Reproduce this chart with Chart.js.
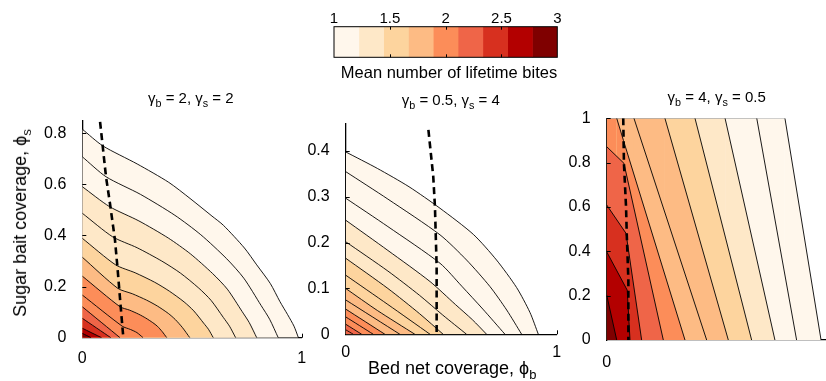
<!DOCTYPE html>
<html><head><meta charset="utf-8">
<script src="https://cdn.jsdelivr.net/npm/chart.js@4.4.1/dist/chart.umd.min.js"></script>
<style>
html,body{margin:0;padding:0;background:#fff;overflow:hidden;width:826px;height:381px;position:relative;}
.layer{position:absolute;left:0;top:0;width:900px;height:381px;}
.txt{position:absolute;font-family:"Liberation Sans",Arial,sans-serif;color:#000;white-space:nowrap;line-height:1;}
.sb{font-size:72%;position:relative;top:0.38em;}
</style></head><body>
<div class="layer"><canvas id="cb"></canvas></div>
<div class="layer"><canvas id="p1"></canvas></div>
<div class="layer"><canvas id="p2"></canvas></div>
<div class="layer"><canvas id="p3"></canvas></div>

<div class="txt" style="left:449px;top:72px;font-size:16.5px;transform:translate(-50%,-50%)">Mean number of lifetime bites</div>
<div class="txt" style="left:190.8px;top:97px;font-size:15px;transform:translate(-50%,-50%)">γ<span class="sb">b</span> = 2, γ<span class="sb">s</span> = 2</div>
<div class="txt" style="left:450.8px;top:99px;font-size:15px;transform:translate(-50%,-50%)">γ<span class="sb">b</span> = 0.5, γ<span class="sb">s</span> = 4</div>
<div class="txt" style="left:716.7px;top:96px;font-size:15px;transform:translate(-50%,-50%)">γ<span class="sb">b</span> = 4, γ<span class="sb">s</span> = 0.5</div>
<div class="txt" style="left:368px;top:368px;font-size:18px;transform:translate(0,-50%)">Bed net coverage, ϕ<span class="sb">b</span></div>
<div class="txt" style="left:20px;top:223px;font-size:18px;transform:translate(-50%,-50%) rotate(-90deg)">Sugar bait coverage, ϕ<span class="sb">s</span></div>

<script>
// ---------- colour scale ----------
const palette = ['#FFF7EC','#FEE8C8','#FDD49E','#FDBB84','#FC8D59','#EF6548','#D7301F','#B30000','#7F0000'];
const cbEdges = [1, 1.2222, 1.4444, 1.6667, 1.8889, 2.1111, 2.3333, 2.5556, 2.7778, 3];
const cbTicks = [1, 1.5, 2, 2.5, 3];

// ---------- panel 1: gamma_b = 2, gamma_s = 2 ----------
const p1XTicks = [0, 1];
const p1YTicks = [0, 0.2, 0.4, 0.6, 0.8];
const p1YMax = 0.85;
const p1Contours = [
  [[0,.816],[.093,.751],[.25,.68],[.394,.608],[.491,.545],[.591,.476],[.643,.44],[.739,.351],[.795,.285],[.857,.212],[.901,.141],[.936,.09],[.965,.045],[.985,0]],
  [[0,.708],[.108,.63],[.265,.561],[.422,.479],[.540,.403],[.658,.309],[.736,.233],[.815,.126],[.854,.072],[.893,0]],
  [[0,.591],[.124,.513],[.258,.457],[.392,.390],[.493,.328],[.594,.251],[.661,.190],[.728,.103],[.761,.059],[.795,0]],
  [[0,.487],[.138,.395],[.250,.352],[.362,.300],[.447,.253],[.531,.194],[.587,.146],[.643,.079],[.671,.045],[.699,0]],
  [[0,.389],[.152,.285],[.241,.254],[.330,.217],[.397,.182],[.464,.140],[.508,.105],[.553,.057],[.575,.033],[.597,0]],
  [[0,.315],[.162,.193],[.228,.172],[.293,.147],[.342,.124],[.392,.095],[.424,.071],[.457,.039],[.49,0]],
  [[0,.241],[.172,.121],[.215,.108],[.257,.092],[.289,.077],[.321,.059],[.342,.045],[.364,.024],[.385,0]],
  [[0,.167],[.182,.045],[.220,.032],[.249,.02],[.277,0]],
  [[0,.121],[.172,0]],
  [[0,.076],[.13,0]],
  [[0,.037],[.088,0]],
  [[0,.017],[.04,0]]
];
const p1Bands = [0,0,1,1,2,3,4,4,5,6,7,8];
const p1Dashed = [[.081,.845],[.108,.63],[.126,.526],[.149,.382],[.160,.278],[.175,.121],[.187,0]];

// ---------- panel 2: gamma_b = 0.5, gamma_s = 4 ----------
const p2XTicks = [0, 1];
const p2YTicks = [0, 0.1, 0.2, 0.3, 0.4];
const p2YMax = 0.46;
const p2Contours = [
  [[0,.398],[.15,.362],[.3,.322],[.447,.275],[.605,.218],[.715,.162],[.81,.102],[.873,.048],[.913,0]],
  [[0,.355],[.2,.295],[.447,.217],[.573,.162],[.684,.104],[.763,.053],[.834,0]],
  [[0,.297],[.2,.235],[.447,.155],[.55,.105],[.65,.055],[.755,0]],
  [[0,.249],[.2,.183],[.4,.115],[.52,.065],[.6,.032],[.668,0]],
  [[0,.202],[.2,.138],[.35,.085],[.46,.042],[.573,0]],
  [[0,.166],[.2,.1],[.35,.045],[.462,0]],
  [[0,.129],[.2,.065],[.4,0]],
  [[0,.1],[.15,.052],[.328,0]],
  [[0,.075],[.257,0]],
  [[0,.055],[.186,0]],
  [[0,.038],[.131,0]],
  [[0,.022],[.076,0]],
  [[0,.01],[.036,0]]
];
const p2Bands = [0,0,0,1,1,2,2,3,3,4,4,5,5];
const p2Dashed = [[.392,.446],[.415,.344],[.423,.278],[.431,.148],[.431,0]];

// ---------- panel 3: gamma_b = 4, gamma_s = 0.5 ----------
const p3XTicks = [0, 1];
const p3YTicks = [0, 0.2, 0.4, 0.6, 0.8, 1];
const p3YMax = 1;
const p3Contours = [
  [[0,1],[.765,1],[.920,0]],
  [[0,1],[.644,1],[.815,0]],
  [[0,1],[.508,1],[.722,0]],
  [[0,1],[.379,1],[.622,0]],
  [[0,1],[.250,1],[.522,0]],
  [[0,1],[.117,1],[.429,0]],
  [[0,1],[.043,1],[.072,.9],[.336,0]],
  [[0,.872],[.074,.797],[.243,0]],
  [[0,.609],[.083,.481],[.150,0]],
  [[0,.398],[.088,.225],[.10,0]],
  [[0,.203],[.043,0]]
];
const p3Bands = [0,0,1,2,3,3,4,5,6,7,8];
const p3Dashed = [[.071,1],[.074,.797],[.083,.601],[.086,.481],[.093,.271],[.093,0]];

// ---------- layout (page pixels) ----------
const CW = 900, CH = 381;
Chart.defaults.font.family = '"Liberation Sans", Arial, sans-serif';
Chart.defaults.color = '#000';

const innerTicks = {
  id: 'innerTicks',
  afterDraw(chart, args, o) {
    const {ctx, chartArea: a} = chart;
    ctx.save();
    ctx.strokeStyle = '#000';
    ctx.lineWidth = 1;
    const L = o.len || 4;
    const seg = (x1,y1,x2,y2) => { ctx.beginPath(); ctx.moveTo(x1,y1); ctx.lineTo(x2,y2); ctx.stroke(); };
    if (o.frame) { ctx.strokeRect(a.left, a.top, a.right - a.left, a.bottom - a.top); }
    (o.x || []).forEach(v => {
      const px = Math.round(chart.scales.x.getPixelForValue(v)) + 0.5;
      seg(px, a.bottom, px, a.bottom - L);
      if (o.both) seg(px, a.top, px, a.top + L);
    });
    (o.y || []).forEach(v => {
      const py = Math.round(chart.scales.y.getPixelForValue(v)) + 0.5;
      seg(a.left, py, a.left + L, py);
    });
    ctx.restore();
  }
};

const toPt = p => ({x: p[0], y: p[1]});

function panel(id, area, xTicks, yTicks, yMax, contours, bands, dashed, opt) {
  const YW = 60, XH = 34;
  const ds = [{
    data: dashed.map(toPt), borderColor: '#000', borderWidth: 2.6, borderDash: [7, 4.5],
    fill: false, pointRadius: 0, tension: 0, order: 0
  }];
  contours.forEach((c, k) => {
    const d = {
      data: c.map(toPt), borderColor: '#000', borderWidth: 0.9,
      backgroundColor: palette[bands[k]], fill: 'origin', pointRadius: 0, order: 1000 - k,
      tension: opt.tension
    };
    if (opt.topGray) d.segment = {
      borderColor: s => (s.p0.parsed.y === yMax && s.p1.parsed.y === yMax) ? '#a8a8a8' : '#000'
    };
    ds.push(d);
  });
  return new Chart(document.getElementById(id), {
    type: 'line',
    data: {datasets: ds},
    options: {
      responsive: true, maintainAspectRatio: false, animation: false, events: [],
      layout: {padding: {left: area.left - YW, top: area.top, right: CW - area.right, bottom: CH - area.bottom - XH}},
      scales: {
        x: {
          type: 'linear', min: 0, max: 1,
          afterFit: s => { s.height = XH; },
          afterBuildTicks: s => { s.ticks = xTicks.map(v => ({value: v})); },
          ticks: {font: {size: 16}, padding: opt.xPad, maxRotation: 0, autoSkip: false, callback: v => String(v)},
          grid: {display: false},
          border: {display: true, color: '#000', width: 1.3}
        },
        y: {
          type: 'linear', min: 0, max: yMax,
          afterFit: s => { s.width = YW; },
          afterBuildTicks: s => { s.ticks = yTicks.map(v => ({value: v})); },
          ticks: {font: {size: 16}, padding: 8, autoSkip: false, callback: v => String(v)},
          grid: {display: false},
          border: {display: true, color: '#000', width: 1.3}
        }
      },
      plugins: {legend: {display: false}, tooltip: {enabled: false},
        innerTicks: {x: xTicks.filter(v => v !== 0), y: yTicks.filter(v => v !== 0), len: 4}}
    },
    plugins: [innerTicks]
  });
}

panel('p1', {left: 82.3, top: 120.5, right: 301.7, bottom: 337.7}, p1XTicks, p1YTicks, p1YMax, p1Contours, p1Bands, p1Dashed, {tension: 0.25, xPad: 3.5});
panel('p2', {left: 345.7, top: 123.5, right: 556.7, bottom: 334.3}, p2XTicks, p2YTicks, p2YMax, p2Contours, p2Bands, p2Dashed, {tension: 0.25, xPad: 1});
panel('p3', {left: 606.7, top: 118.3, right: 839.7, bottom: 340}, p3XTicks, p3YTicks, p3YMax, p3Contours, p3Bands, p3Dashed, {tension: 0, topGray: true, xPad: 4.5});

// ---------- colour bar ----------
(function () {
  const area = {left: 334, top: 26.7, right: 557.3, bottom: 57.3};
  const XH = 25;
  new Chart(document.getElementById('cb'), {
    type: 'bar',
    data: {
      labels: [''],
      datasets: palette.map((c, i) => ({
        data: [[cbEdges[i], cbEdges[i + 1]]], backgroundColor: c, borderWidth: 0,
        grouped: false, barPercentage: 1, categoryPercentage: 1
      }))
    },
    options: {
      indexAxis: 'y', responsive: true, maintainAspectRatio: false, animation: false, events: [],
      layout: {padding: {left: area.left, top: area.top - XH, right: CW - area.right, bottom: CH - area.bottom}},
      scales: {
        x: {
          type: 'linear', position: 'top', min: 1, max: 3,
          afterFit: s => { s.height = XH; },
          afterBuildTicks: s => { s.ticks = cbTicks.map(v => ({value: v})); },
          ticks: {font: {size: 15}, padding: -9.5, maxRotation: 0, autoSkip: false, callback: v => String(v)},
          grid: {display: false}, border: {display: false}
        },
        y: {display: false}
      },
      plugins: {legend: {display: false}, tooltip: {enabled: false},
        innerTicks: {x: [1.5, 2, 2.5], both: true, len: 3, frame: true}}
    },
    plugins: [innerTicks]
  });
})();
</script>
</body></html>
